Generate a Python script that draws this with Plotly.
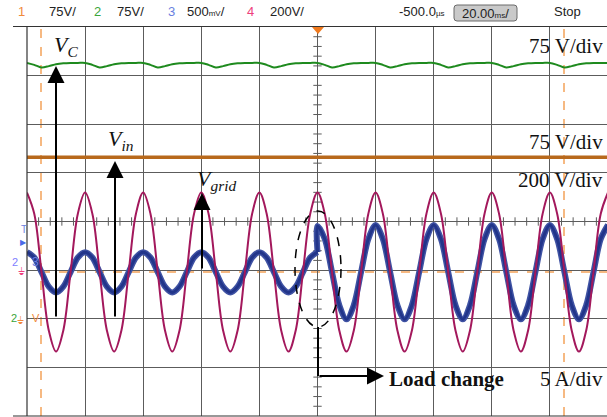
import numpy as np
import plotly.graph_objects as go

# ---- acquisition setup (scope screen: 10 x 8 divisions) ----
TIME_PER_DIV_MS = 20.0
CH_SCALE = {"vin": 75.0, "vc": 75.0, "i": 5.0, "vgrid": 200.0}     # units / div
CH_GROUND_DIV = {"vin": -1.965, "vc": -1.965, "i": -1.04, "vgrid": -1.04}

# sample instants (ms), 2.5 ms apart across the 200 ms record
t_ms = np.arange(-100.0, 100.0 + 1e-9, 2.5)

# grid voltage (V)
vgrid_v = [
    327, 240, 0, -240, -327, -240, 0, 240,
    327, 240, 0, -240, -327, -240, 0, 240,
    327, 240, 0, -240, -327, -240, 0, 240,
    327, 240, 0, -240, -327, -240, 0, 240,
    327, 240, 0, -240, -327, -240, 0, 240,
    327, 240, 0, -240, -327, -240, 0, 240,
    327, 240, 0, -240, -327, -240, 0, 240,
    327, 240, 0, -240, -327, -240, 0, 240,
    327, 240, 0, -240, -327, -240, 0, 240,
    327, 240, 0, -240, -327, -240, 0, 240,
    327,
]

# DC-link capacitor voltage Vc (V)
vc_v = [
    392, 389, 385, 387, 390, 391.5, 392, 392,
    392, 389, 385, 387, 390, 391.5, 392, 392,
    392, 389, 385, 387, 390, 391.5, 392, 392,
    392, 389, 385, 387, 390, 391.5, 392, 392,
    392, 389, 385, 387, 390, 391.5, 392, 392,
    392, 389, 385, 387, 390, 391.5, 392, 392,
    392, 389, 385, 387, 390, 391.5, 392, 392,
    392, 389, 385, 387, 390, 391.5, 392, 392,
    392, 389, 385, 387, 390, 391.5, 392, 392,
    392, 389, 385, 387, 390, 391.5, 392, 392,
    392,
]

# input voltage Vin (V)
vin_v = [246.4] * len(t_ms)

# grid current (A): light load before t = 0, heavy load after
t_before_ms = [
    -100, -97.5, -95, -92.5, -90, -87.5, -85, -82.5,
    -80, -77.5, -75, -72.5, -70, -67.5, -65, -62.5,
    -60, -57.5, -55, -52.5, -50, -47.5, -45, -42.5,
    -40, -37.5, -35, -32.5, -30, -27.5, -25, -22.5,
    -20, -17.5, -15, -12.5, -10, -7.5, -5, -2.5, 0,
]
i_before_a = [
    2.05, 1.5, 0, -1.5, -2.1, -1.5, 0, 1.5,
    2.05, 1.5, 0, -1.5, -2.1, -1.5, 0, 1.5,
    2.05, 1.5, 0, -1.5, -2.1, -1.5, 0, 1.5,
    2.05, 1.5, 0, -1.5, -2.1, -1.5, 0, 1.5,
    2.05, 1.5, 0, -1.5, -2.1, -1.5, 0, 1.5, 2.05,
]
t_after_ms = [
    0, 0, 2.5, 5, 7.5, 10, 12.5, 15, 17.5,
    20, 22.5, 25, 27.5, 30, 32.5, 35, 37.5,
    40, 42.5, 45, 47.5, 50, 52.5, 55, 57.5,
    60, 62.5, 65, 67.5, 70, 72.5, 75, 77.5,
    80, 82.5, 85, 87.5, 90, 92.5, 95, 97.5, 100,
]
i_after_a = [
    2.05, 4.75, 3.4, 0, -3.4, -4.85, -3.4, 0, 3.4,
    4.85, 3.4, 0, -3.4, -4.85, -3.4, 0, 3.4,
    4.85, 3.4, 0, -3.4, -4.85, -3.4, 0, 3.4,
    4.85, 3.4, 0, -3.4, -4.85, -3.4, 0, 3.4,
    4.85, 3.4, 0, -3.4, -4.85, -3.4, 0, 3.4, 4.85,
]


def to_div(values, ch):
    return np.asarray(values, dtype=float) / CH_SCALE[ch] + CH_GROUND_DIV[ch]


def t_div(times):
    return np.asarray(times, dtype=float) / TIME_PER_DIV_MS


# ---- screen geometry helpers (page pixels -> paper fraction) ----
W, H = 607, 417
PL, PR, PT, PB = 27, 607, 27, 416


def px(x):
    return (x - PL) / (PR - PL)


def py(y):
    return (PB - y) / (PB - PT)


GRID = "#5c5c5c"
CURSOR = "#f3a35a"
fig = go.Figure()

# graticule minor ticks on the centre lines
hx = [k / 5 for k in range(-25, 26) if k % 5]
vy = [k / 5 for k in range(-20, 21) if k % 5]
fig.add_trace(go.Scatter(x=hx, y=[0] * len(hx), mode="markers", hoverinfo="skip",
                         marker=dict(symbol="line-ns", size=6,
                                     line=dict(color=GRID, width=1))))
fig.add_trace(go.Scatter(x=[0] * len(vy), y=vy, mode="markers", hoverinfo="skip",
                         marker=dict(symbol="line-ew", size=6,
                                     line=dict(color=GRID, width=1))))

# channel traces
fig.add_trace(go.Scatter(x=t_div(t_ms), y=to_div(vin_v, "vin"), mode="lines",
                         line=dict(color="#b8691c", width=3.5)))
fig.add_trace(go.Scatter(x=t_div(t_ms), y=to_div(vc_v, "vc"), mode="lines",
                         line=dict(color="#1e8a1e", width=2, shape="spline", smoothing=0.9)))
for width, color in ((6, "#3f52a3"), (3, "#22358a")):
    fig.add_trace(go.Scatter(x=t_div(t_before_ms), y=to_div(i_before_a, "i"), mode="lines",
                             line=dict(color=color, width=width, shape="spline", smoothing=0.9)))
    fig.add_trace(go.Scatter(x=t_div(t_after_ms), y=to_div(i_after_a, "i"), mode="lines",
                             line=dict(color=color, width=width, shape="spline", smoothing=0.9)))
fig.add_trace(go.Scatter(x=t_div(t_ms), y=to_div(vgrid_v, "vgrid"), mode="lines",
                         line=dict(color="#a3185c", width=2, shape="spline", smoothing=1.0)))

shapes = []
# screen border
for x0, y0, x1, y1 in ((13, 26.5, 607, 26.5), (13, 416, 607, 416), (27, 26.5, 27, 416)):
    shapes.append(dict(type="line", xref="paper", yref="paper",
                       x0=px(x0), y0=py(y0), x1=px(x1), y1=py(y1),
                       line=dict(color="#333333", width=1.2)))
# cursors
for x in (41, 564):
    shapes.append(dict(type="line", xref="paper", yref="paper", layer="below",
                       x0=px(x), x1=px(x), y0=py(416), y1=py(27),
                       line=dict(color=CURSOR, width=1.5, dash="dash")))
shapes.append(dict(type="line", xref="paper", yref="paper", layer="below",
                   x0=px(41), x1=px(607), y0=py(272), y1=py(272),
                   line=dict(color=CURSOR, width=1.5, dash="dash")))
# trigger position marker
shapes.append(dict(type="path", xref="paper", yref="paper",
                   path=f"M {px(312)} {py(27)} L {px(324)} {py(27)} L {px(318)} {py(34)} Z",
                   fillcolor="#f07a1e", line=dict(width=0)))
# load change: dashed ellipse and bent arrow
shapes.append(dict(type="circle", xref="paper", yref="paper",
                   x0=px(295), x1=px(341), y0=py(327), y1=py(211),
                   line=dict(color="black", width=1.5, dash="dash")))
shapes.append(dict(type="line", xref="paper", yref="paper",
                   x0=px(318), x1=px(318), y0=py(327), y1=py(376),
                   line=dict(color="black", width=2)))
# timebase box
r = 3
bx0, bx1, by0, by1 = 454, 517, 5, 21
box_path = (f"M {px(bx0 + r)} {py(by0)} L {px(bx1 - r)} {py(by0)} "
            f"Q {px(bx1)} {py(by0)} {px(bx1)} {py(by0 + r)} L {px(bx1)} {py(by1 - r)} "
            f"Q {px(bx1)} {py(by1)} {px(bx1 - r)} {py(by1)} L {px(bx0 + r)} {py(by1)} "
            f"Q {px(bx0)} {py(by1)} {px(bx0)} {py(by1 - r)} L {px(bx0)} {py(by0 + r)} "
            f"Q {px(bx0)} {py(by0)} {px(bx0 + r)} {py(by0)} Z")
shapes.append(dict(type="path", xref="paper", yref="paper", path=box_path,
                   fillcolor="#c9c9c9", line=dict(color="#6a6a6a", width=1)))

ann = []
HDR = "Liberation Sans Narrow, Liberation Sans, Arial"


def text(x, y, s, size=13, color="#222222", family=HDR, xanchor="left", yanchor="middle"):
    ann.append(dict(x=px(x), y=py(y), xref="paper", yref="paper", text=s, showarrow=False,
                    xanchor=xanchor, yanchor=yanchor,
                    font=dict(size=size, color=color, family=family)))


small = "<span style='font-size:8px'>{}</span>"
# header
text(16, 12, "1", color="#f08a3c")
text(47, 12, "75V/")
text(92, 12, "2", color="#3aa53a")
text(115, 12, "75V/")
text(166, 12, "3", color="#6b7fe0")
text(185, 12, "500" + small.format("mV") + "/")
text(245, 12, "4", color="#ee3f7c")
text(268, 12, "200V/")
text(397, 12, "-500.0" + small.format("µs"))
text(485.5, 13, "20.00" + small.format("ms") + "/", xanchor="center")
text(552, 12, "Stop")

# channel ground markers on the left edge
text(19, 230, "T", size=10, color="#6b7fe0")
text(18, 242, "▶", size=8, color="#4a6ae8")
text(10, 262, "2", size=11, color="#8080ff")
text(16, 271, "⏚", size=10, color="#ee3f7c")
text(30, 262, "3", size=12, color="#6b7fe0")
text(9, 318, "2", size=11, color="#3aa53a")
text(15, 320, "⏚", size=10, color="#f08a3c")
text(30, 318, "V", size=11, color="#f08a3c")

SERIF = "Liberation Serif, Times New Roman, serif"
# scale legends
text(605, 46, "75 V/div", size=21, color="#111111", family=SERIF, xanchor="right")
text(605, 142, "75 V/div", size=21, color="#111111", family=SERIF, xanchor="right")
text(605, 180, "200 V/div", size=21, color="#111111", family=SERIF, xanchor="right")
text(605, 379, "5 A/div", size=21, color="#111111", family=SERIF, xanchor="right")
text(387, 379, "<b>Load change</b>", size=21, color="#111111", family=SERIF)

# signal names
text(52, 46, "<i>V</i><sub><i>C</i></sub>", size=22, color="#111111", family=SERIF)
text(106, 140, "<i>V</i><sub><i>in</i></sub>", size=22, color="#111111", family=SERIF)
text(195, 180, "<i>V</i><sub><i>grid</i></sub>", size=22, color="#111111", family=SERIF)

# pointer arrows
for (tx, ty), (sx, sy) in (((56, 66), (56, 318)), ((115, 161), (115, 318)),
                           ((202, 193), (202, 270)), ((384, 376), (318, 376))):
    ann.append(dict(x=px(tx), y=py(ty), xref="paper", yref="paper",
                    ax=sx - tx, ay=sy - ty, axref="pixel", ayref="pixel",
                    text="", showarrow=True, arrowhead=2, arrowsize=1.7,
                    arrowwidth=2, arrowcolor="black"))

fig.update_layout(
    width=W, height=H,
    margin=dict(l=PL, r=W - PR, t=PT, b=H - PB),
    paper_bgcolor="white", plot_bgcolor="white",
    showlegend=False,
    shapes=shapes, annotations=ann,
    xaxis=dict(range=[-5, (PR - PL) / 58.1 - 5], dtick=1, tick0=0, showgrid=True,
               gridcolor=GRID, gridwidth=1, zeroline=False, showticklabels=False,
               ticks="", showline=False, fixedrange=True),
    yaxis=dict(range=[-4, 4], dtick=1, tick0=0, showgrid=True,
               gridcolor=GRID, gridwidth=1, zeroline=False, showticklabels=False,
               ticks="", showline=False, fixedrange=True),
)

fig.write_html("out.html")
